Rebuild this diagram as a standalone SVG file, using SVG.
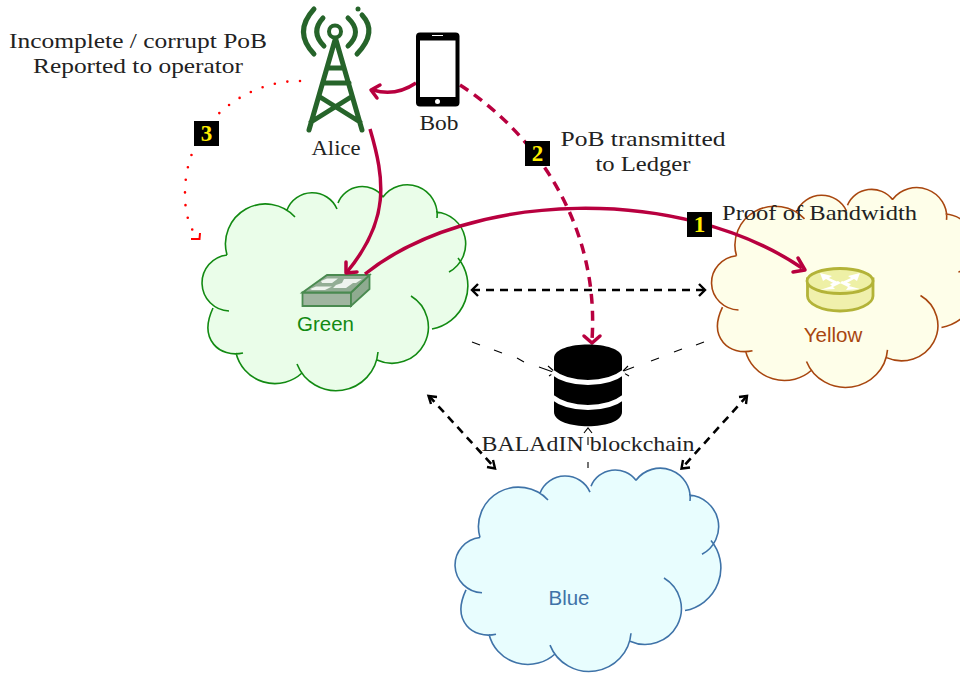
<svg xmlns="http://www.w3.org/2000/svg" width="960" height="673" viewBox="0 0 960 673">
<style>
.t{font-family:"Liberation Serif",serif;font-size:21.5px;fill:#222}
.s{font-family:"Liberation Sans",sans-serif;font-size:20.500px;text-anchor:middle}
.n{font-family:"Liberation Serif",serif;font-size:23px;font-weight:bold;fill:#ffee00;text-anchor:middle}
.f{stroke:none}
.o{fill:none;stroke-width:1.6}
.c{fill:none;stroke:#b8003f;stroke-width:3.5}
.d{fill:none;stroke:#000;stroke-width:2.6;stroke-dasharray:8 6}
.h{fill:none;stroke:#000;stroke-width:2.4}
.thin{fill:none;stroke:#000;stroke-width:1.1}
.ah{fill:none;stroke:#b8003f;stroke-width:3.5;stroke-linecap:round;stroke-linejoin:round}
.tw{fill:none;stroke:#26642a;stroke-width:5;stroke-linecap:round}
</style>
<defs>
<path id="cf" d="M37,75A40,40 0 0 1 105,37L97,30A27,27 0 0 1 147,29L148,23A26,26 0 0 1 193,17A30,30 0 0 1 247,38L246,32A32,32 0 0 1 259,92L268,78A44,44 0 0 1 242,149L221,116A36.300,36.300 0 0 1 187,180L188,172A42,42 0 0 1 107,184L112,193A40,40 0 0 1 46,173L53,173C30,178 8,160 23,128L39,131A28.100,28.100 0 0 1 37,75Z"/>
<path id="cs" d="M37,75A40,40 0 0 1 105,37M97,30A27,27 0 0 1 147,29M148,23A26,26 0 0 1 193,17M193,17A30,30 0 0 1 247,38M246,32A32,32 0 0 1 259,92M268,78A44,44 0 0 1 242,149M221,116A36.300,36.300 0 0 1 187,180M188,172A42,42 0 0 1 107,184M112,193A40,40 0 0 1 46,173M53,173C30,178 8,160 23,128M39,131A28.100,28.100 0 0 1 37,75"/>
</defs>
<g id="cloud-green" transform="translate(190,180)">
<use href="#cf" class="f" fill="#eafde9"/><use href="#cs" class="o" stroke="#128a12"/>
<text class="s" x="135.500" y="151" fill="#128a12">Green</text>
<g id="switch" transform="translate(-190,-180)">
<path d="M302.500,292.500H351V306H302.500Z" fill="#a0b5a0" stroke="#4a8a50" stroke-width="1.800"/>
<path d="M351,292.500L369.500,275V289L351,306Z" fill="#8fab90" stroke="#4a8a50" stroke-width="1.800"/>
<path d="M302.500,292.500L327,275H369.500L351,292.500Z" fill="#93ad95" stroke="#4a8a50" stroke-width="1.800"/>
<path d="M321,281L327,278.500H338L332,283H322ZM344,279H362L356,283H342ZM310,289L316,286.500H332L325,290H312ZM336,285L342,283H353L346,288H333Z" fill="#eef3ee"/>
</g>
</g>
<g id="cloud-yellow" transform="translate(699.500,183) scale(1,.97)">
<use href="#cf" class="f" fill="#fefee9"/><use href="#cs" class="o" stroke="#a8460f"/>
</g>
<g id="router">
<path d="M807.500,279V296C807.500,304 822,311 840,311C858,311 873,304 873,296V279Z" fill="#f0f0ac" stroke="#b3b338" stroke-width="2.800"/>
<ellipse cx="840" cy="281" rx="33" ry="12.500" fill="#eef0a6" stroke="#b3b338" stroke-width="2.800"/>
<path d="M820,273L832,276L829,278L838,282L835,284L826,279L823,281ZM860,273L848,276L851,278L842,282L845,284L854,279L857,281ZM820,290L832,286L830,284L838,281L841,283L833,287L835,289ZM860,289L849,286L851,284L842,281L840,283L848,287L846,290Z" fill="#fff"/>
<text class="s" x="833" y="342" fill="#a8460f">Yellow</text>
</g>
<g id="cloud-blue" transform="translate(443,463.500) scale(1,.987)">
<use href="#cf" class="f" fill="#e8fdfe"/><use href="#cs" class="o" stroke="#3f73a8"/>
</g>
<text class="s" x="569" y="605" fill="#3f73a8">Blue</text>
<g id="connectors">
<path class="d" d="M472,290H705"/>
<path class="h" d="M478,284L472,290L478,296M699,284L705,290L699,296"/>
<path class="d" d="M429,396L495,468"/>
<path class="h" d="M437,397L428.500,396L431,404M487,467L495,468.500L493,460"/>
<path class="d" d="M747,396L682,468"/>
<path class="h" d="M739,397L747,396L746,404M690,467.500L681.500,468.500L683,460"/>
<path class="thin" d="M472,342L480,345M494,350L502,353M517,358L524,362M539,367L553,372M621,372L634,367M651,361L659,358M674,352L682,349M696,345L704,342M588,468V462M588,445V437"/>
<path class="thin" d="M548,366L555,372L549,376M628,366L622,372L629,376M584,433L588,428L592,433"/>
<path class="c" d="M365,274C470,190 680,185 802,268"/>
<path class="ah" d="M793,272L805,270L798,258"/>
<path class="c" d="M370,129C385,180 390,220 347,272"/>
<path class="ah" d="M346,262L346,273L357,272"/>
<path class="c" d="M416,83Q395,97 373,90"/>
<path class="ah" d="M380,85L371,90L377,98"/>
<path class="c" stroke-dasharray="10 7" d="M460,85C530,130 600,220 592,340"/>
<path class="ah" d="M584,336L592,343L600,336"/>
<path fill="none" stroke="#f00" stroke-width="2.600" stroke-linecap="round" stroke-dasharray="0 12.700" d="M300,81C250,80 184,120 185,195C185,210 188,222 193,231"/>
<path fill="none" stroke="#f00" stroke-width="2" d="M191,239H199.500L200,233"/>
</g>
<g id="tower">
<path class="tw" d="M335,40L309,130M336,40L362,130M328,68H344M323,83H349M320,97L360,122M351,97L311,122"/>
<circle cx="335" cy="31.500" r="6" fill="none" stroke="#26642a" stroke-width="4"/>
<path class="tw" d="M323,18Q310,32 324,46M348,18Q363,32 348,46M314,9Q293,32 314,54M357,54Q378,32 362,15"/>
<circle cx="358" cy="9" r="2.500" fill="#26642a"/>
<text class="t" x="336" y="155" text-anchor="middle" lengthAdjust="spacingAndGlyphs" textLength="49">Alice</text>
</g>
<g id="phone">
<rect x="416" y="32.500" width="43.500" height="74" rx="4" fill="#000"/>
<rect x="420" y="40.500" width="35.500" height="56.500" fill="#fff"/>
<path d="M432,35.500H443" stroke="#fff" stroke-width="1"/>
<circle cx="437.500" cy="101.500" r="2.500" fill="#fff"/>
<text class="t" x="439" y="130" text-anchor="middle" lengthAdjust="spacingAndGlyphs" textLength="39">Bob</text>
</g>
<g id="database">
<path d="M554,358C554,340 622,340 622,358V412C622,431 554,431 554,412Z" fill="#000"/>
<path d="M552,372C570,386 606,386 624,372M552,397C570,411 606,411 624,397" fill="none" stroke="#fff" stroke-width="5"/>
<text class="t" x="588" y="451" text-anchor="middle" lengthAdjust="spacingAndGlyphs" textLength="213">BALAdIN blockchain</text>
</g>
<g id="badge-1"><rect x="687" y="212" width="25" height="25" fill="#000"/><text class="n" x="699.500" y="232">1</text></g>
<g id="badge-2"><rect x="525" y="141" width="25" height="25" fill="#000"/><text class="n" x="537.500" y="161">2</text></g>
<g id="badge-3"><rect x="194" y="121" width="25" height="25" fill="#000"/><text class="n" x="206.500" y="141">3</text></g>
<text class="t" x="722" y="220" lengthAdjust="spacingAndGlyphs" textLength="195">Proof of Bandwidth</text>
<text class="t" x="643" y="146" text-anchor="middle" lengthAdjust="spacingAndGlyphs" textLength="165">PoB transmitted</text>
<text class="t" x="643" y="171" text-anchor="middle" lengthAdjust="spacingAndGlyphs" textLength="95">to Ledger</text>
<text class="t" x="138" y="48" text-anchor="middle" lengthAdjust="spacingAndGlyphs" textLength="258">Incomplete / corrupt PoB</text>
<text class="t" x="138" y="73" text-anchor="middle" lengthAdjust="spacingAndGlyphs" textLength="210">Reported to operator</text>
</svg>
